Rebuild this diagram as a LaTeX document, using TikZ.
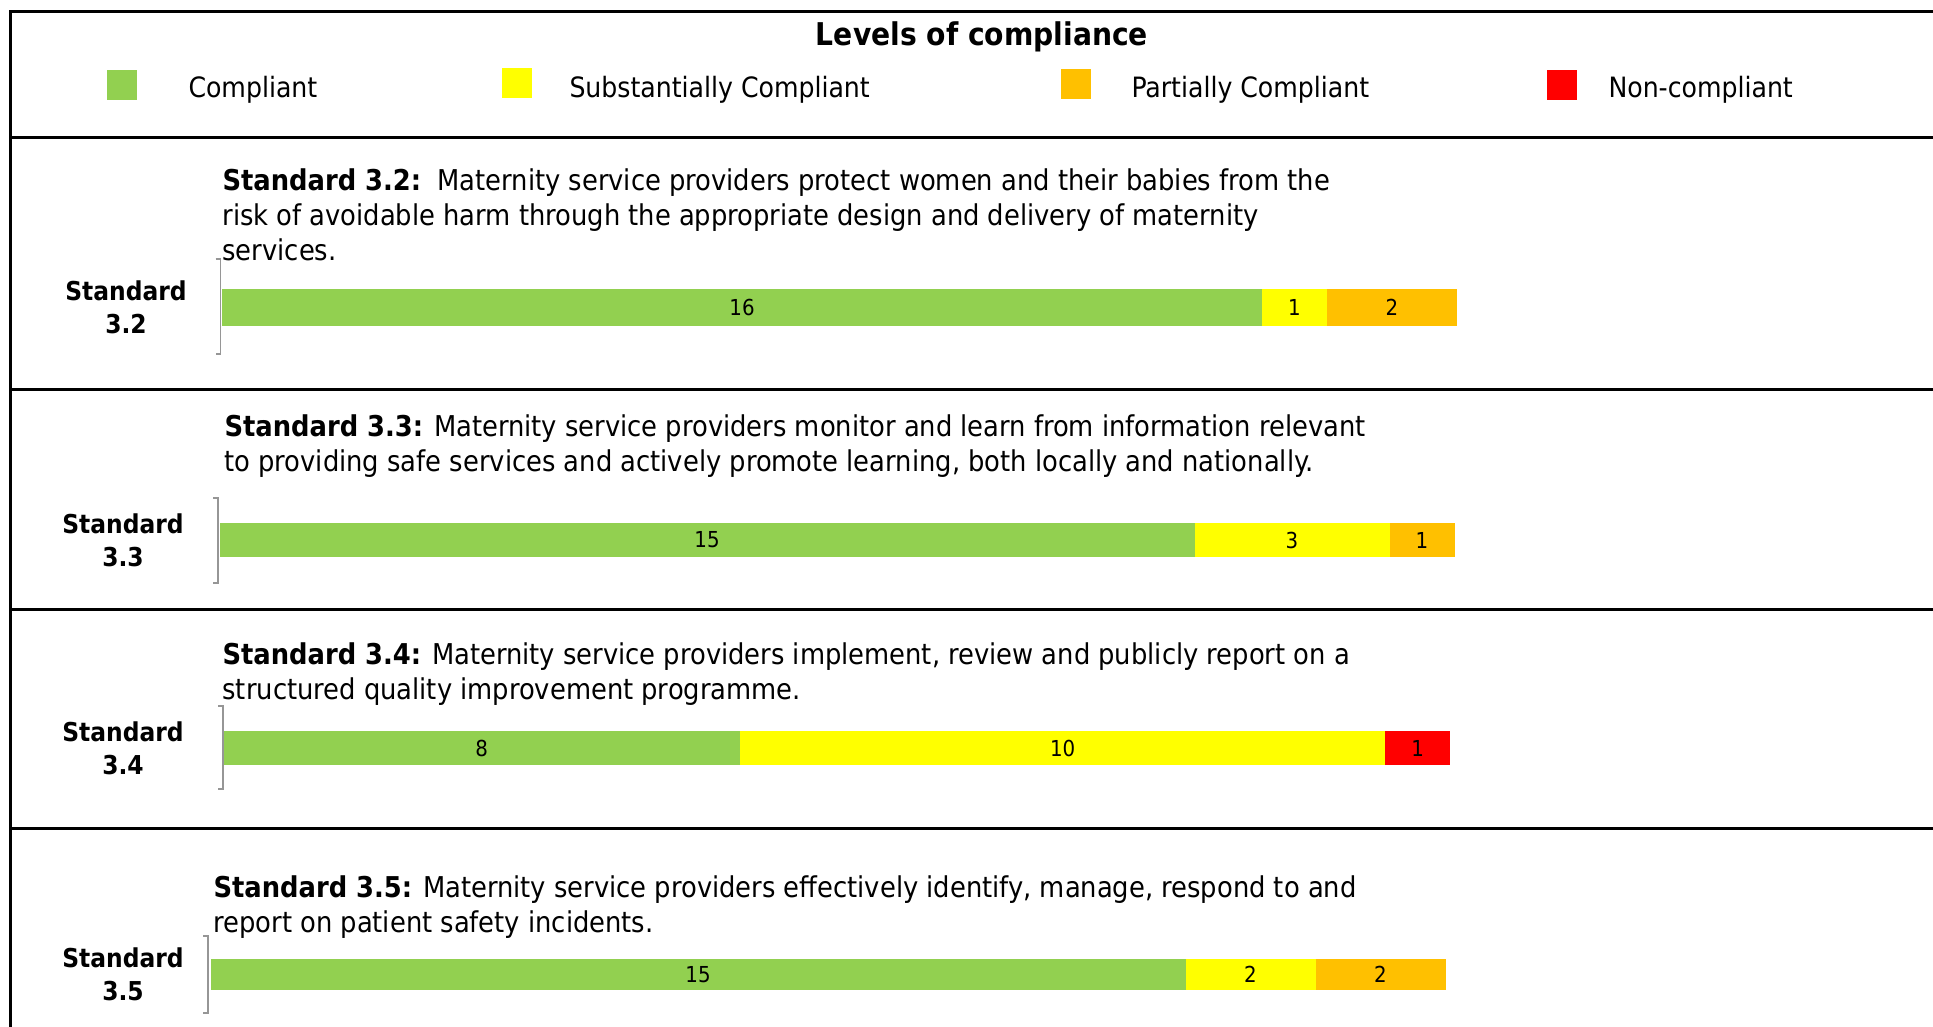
\documentclass[tikz,border=0pt]{standalone}
\usepackage{fontspec}
\setmainfont{DejaVu Sans Condensed}
\usetikzlibrary{positioning}

\definecolor{compgreen}{RGB}{146,208,80}
\definecolor{compyellow}{RGB}{255,255,0}
\definecolor{comporange}{RGB}{255,192,0}
\definecolor{compred}{RGB}{255,0,0}
\definecolor{brkgrey}{RGB}{150,150,150}

\tikzset{every picture/.style={line width=0.75pt}}

\begin{document}
\begin{tikzpicture}[x=0.75pt,y=0.75pt,yscale=-1,xscale=1,
  frame/.style={line width=2.25pt},
  brk/.style={draw=brkgrey, line width=1.1pt},
  seg/.style={rectangle, inner sep=0pt, outer sep=0pt, font=\fontsize{16.5}{19}\selectfont},
  keybox/.style={rectangle, inner sep=0pt, minimum size=22.5pt},
  keytext/.style={inner sep=0pt, anchor=base west, font=\fontsize{21}{25}\selectfont},
  head/.style={inner sep=0pt, anchor=base west, align=left, font=\fontsize{21.5}{26.25}\selectfont},
  stdlabel/.style={inner sep=0pt, align=center, font=\bfseries\fontsize{19.5}{24.75}\selectfont}]
\useasboundingbox (0,0) rectangle (1933,1027);

%Straight Lines: frame and separators
\draw [frame] (1933,12) -- (10,12) -- (10,1027) ;
\draw [frame] (10,138) -- (1933,138) ;
\draw [frame] (10,389.5) -- (1933,389.5) ;
\draw [frame] (10,609) -- (1933,609) ;
\draw [frame] (10,828.5) -- (1933,828.5) ;

% Text Node
\node [inner sep=0pt, anchor=base, font=\bfseries\fontsize{23.5}{28}\selectfont] (title) at (982,45.5) {Levels of compliance};

%Shape: legend keys
\node [keybox, fill=compgreen] (kgreen) at (122,85) {};
\node [keybox, fill=compyellow] (kyellow) at (516.5,83.5) {};
\node [keybox, fill=comporange] (korange) at (1075.5,84.5) {};
\node [keybox, fill=compred] (kred) at (1561.5,85) {};
% Text Node
\node [keytext] (tgreen) at (188,97.5) {Compliant};
\node [keytext] (tyellow) at (569,97.5) {Substantially Compliant};
\node [keytext] (torange) at (1131,97.5) {Partially Compliant};
\node [keytext] (tred) at (1608,97.5) {Non-compliant};

%Standard 3.2
\node [head] (h32) at (222,260) {\textbf{Standard 3.2:}\ \ Maternity service providers protect women and their babies from the\\risk of avoidable harm through the appropriate design and delivery of maternity\\services.};
\node [stdlabel] (l32) at (126,307) {Standard\\3.2};
\draw [brk] (215.7,259) -- (220.7,259) -- (220.7,354) -- (215.7,354) ;
\node [seg, fill=compgreen, minimum width=780pt, minimum height=27.75pt, anchor=west] (g32) at (222,307) {16};
\node [seg, fill=compyellow, minimum width=48.75pt, minimum height=27.75pt, right=0pt of g32] (y32) {1};
\node [seg, fill=comporange, minimum width=97.5pt, minimum height=27.75pt, right=0pt of y32] (o32) {2};

%Standard 3.3
\node [head] (h33) at (224,471) {\textbf{Standard 3.3:} Maternity service providers monitor and learn from information relevant\\to providing safe services and actively promote learning, both locally and nationally.};
\node [stdlabel] (l33) at (123,540) {Standard\\3.3};
\draw [brk] (213,498) -- (218,498) -- (218,583) -- (213,583) ;
\node [seg, fill=compgreen, minimum width=731.25pt, minimum height=25.5pt, anchor=west] (g33) at (219.5,540) {15};
\node [seg, fill=compyellow, minimum width=146.25pt, minimum height=25.5pt, right=0pt of g33] (y33) {3};
\node [seg, fill=comporange, minimum width=48.75pt, minimum height=25.5pt, right=0pt of y33] (o33) {1};

%Standard 3.4
\node [head] (h34) at (222,699) {\textbf{Standard 3.4:} Maternity service providers implement, review and publicly report on a\\structured quality improvement programme.};
\node [stdlabel] (l34) at (123,748) {Standard\\3.4};
\draw [brk] (218,706) -- (223,706) -- (223,789) -- (218,789) ;
\node [seg, fill=compgreen, minimum width=387.3pt, minimum height=25.5pt, anchor=west] (g34) at (223.5,748) {8};
\node [seg, fill=compyellow, minimum width=484.1pt, minimum height=25.5pt, right=0pt of g34] (y34) {10};
\node [seg, fill=compred, minimum width=48.4pt, minimum height=25.5pt, right=0pt of y34] (r34) {1};

%Standard 3.5
\node [head] (h35) at (213,932) {\textbf{Standard 3.5:} Maternity service providers effectively identify, manage, respond to and\\report on patient safety incidents.};
\node [stdlabel] (l35) at (123,974.5) {Standard\\3.5};
\draw [brk] (203,936) -- (208,936) -- (208,1013) -- (203,1013) ;
\node [seg, fill=compgreen, minimum width=731.25pt, minimum height=23.25pt, anchor=west] (g35) at (210.5,974.5) {15};
\node [seg, fill=compyellow, minimum width=97.5pt, minimum height=23.25pt, right=0pt of g35] (y35) {2};
\node [seg, fill=comporange, minimum width=97.5pt, minimum height=23.25pt, right=0pt of y35] (o35) {2};

\end{tikzpicture}
\end{document}
